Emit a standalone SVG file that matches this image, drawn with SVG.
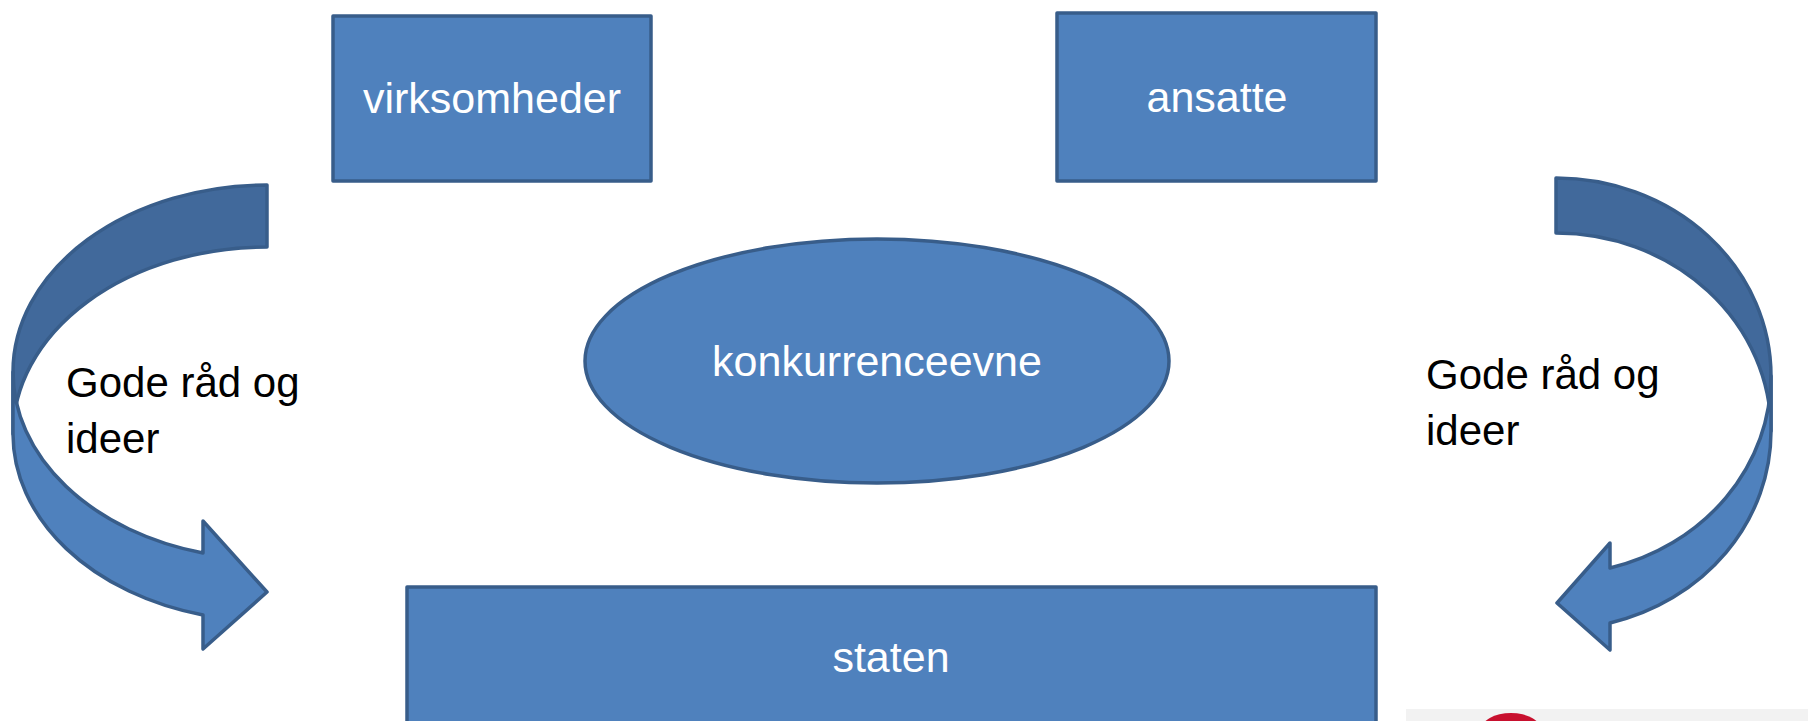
<svg xmlns="http://www.w3.org/2000/svg" width="1808" height="721" viewBox="0 0 1808 721">
<style>
.node{fill:#4F81BD;stroke:#385D8A;stroke-width:3.5;stroke-linejoin:round}
.back{fill:#41699B;stroke:#385D8A;stroke-width:3.5;stroke-linejoin:round}
.front{fill:#4F81BD;stroke:#385D8A;stroke-width:3.5;stroke-linejoin:round}
.lbl{font-family:"Liberation Sans",Arial,sans-serif;font-size:43px;fill:#FFFFFF;text-anchor:middle}
.side{font-family:"Liberation Sans",Arial,sans-serif;font-size:42px;fill:#000000}
</style>
<rect width="1808" height="721" fill="#FFFFFF"/>
<g id="connectors">
<g id="arrow-left">
<path class="back" d="M267,185 A254 187 0 0 0 13,372 L13,434 A254 187 0 0 1 267,247 Z"/>
<path class="front" d="M13,372 A254 187 0 0 0 203,553 L203,521 L267,592 L203,649 L203,615 A254 187 0 0 1 13,434 Z"/>
</g>
<g id="arrow-right">
<path class="back" d="M1556,178 A215 198 0 0 1 1771,376 L1771,431 A215 198 0 0 0 1556,233 Z"/>
<path class="front" d="M1771,376 A215 198 0 0 1 1610,568 L1610,543 L1557,603 L1610,650 L1610,623 A215 198 0 0 0 1771,431 Z"/>
</g>
</g>
<g id="label-left">
<text class="side" x="66" y="397">Gode råd og</text>
<text class="side" x="66" y="453">ideer</text>
</g>
<g id="label-right">
<text class="side" x="1426" y="389">Gode råd og</text>
<text class="side" x="1426" y="445">ideer</text>
</g>
<g id="virksomheder">
<rect class="node" x="333" y="16" width="318" height="165"/>
<text class="lbl" x="492" y="113">virksomheder</text>
</g>
<g id="ansatte">
<rect class="node" x="1057" y="13" width="319" height="168"/>
<text class="lbl" x="1217" y="112">ansatte</text>
</g>
<g id="konkurrenceevne">
<ellipse class="node" cx="877" cy="361" rx="292" ry="122"/>
<text class="lbl" x="877" y="376">konkurrenceevne</text>
</g>
<g id="staten">
<rect class="node" x="407" y="587" width="969" height="150"/>
<text class="lbl" x="891" y="672">staten</text>
</g>
<g id="logo">
<rect x="1406" y="709" width="402" height="12" fill="#F2F2F2"/>
<ellipse cx="1511" cy="730" rx="30" ry="17" fill="#C8102E"/>
</g>
</svg>
